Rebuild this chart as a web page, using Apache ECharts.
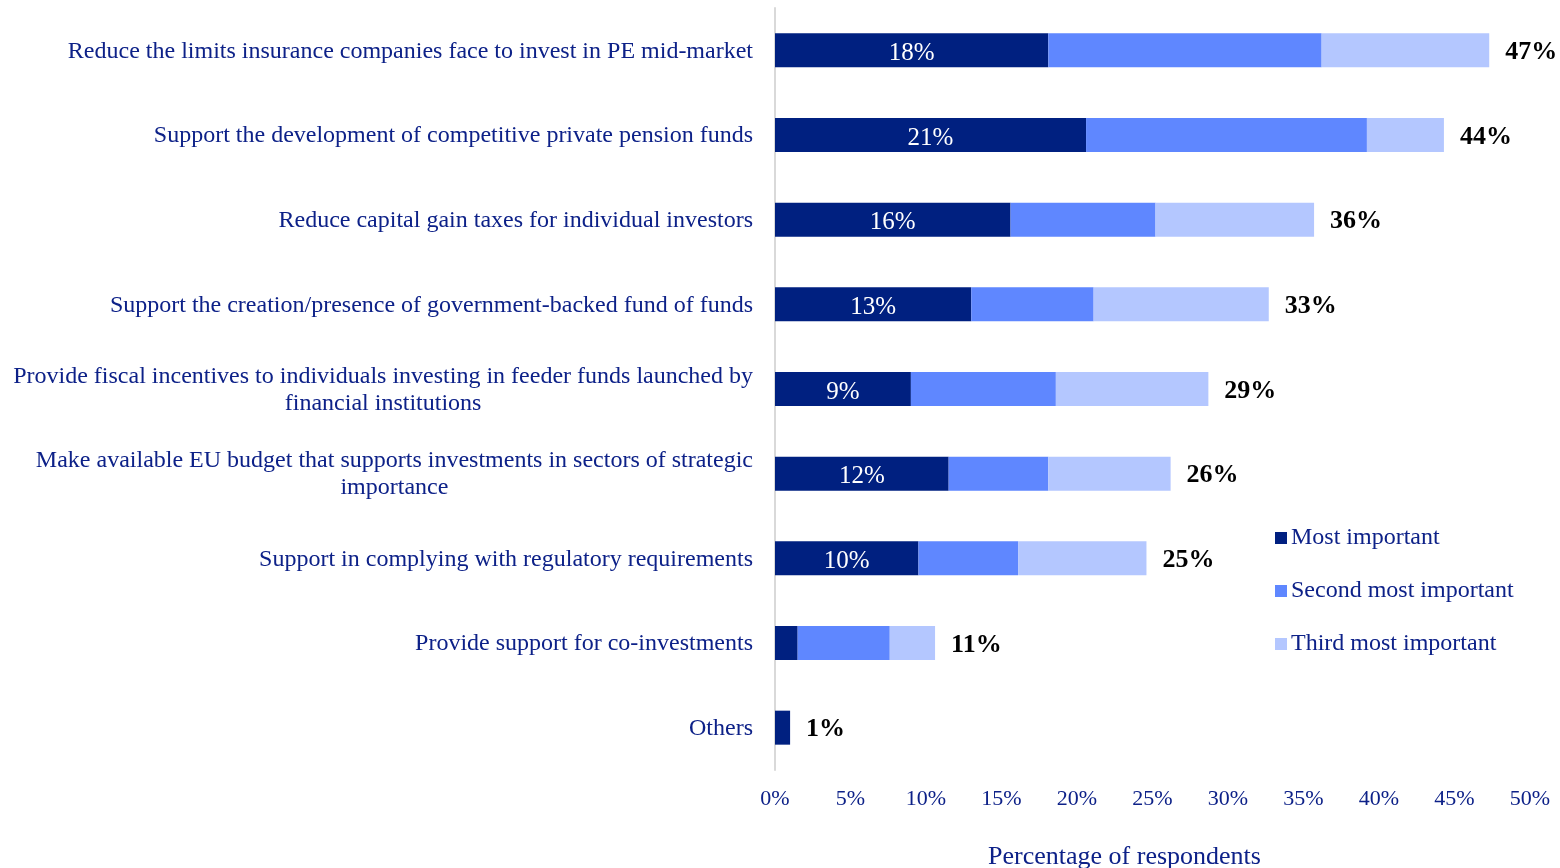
<!DOCTYPE html>
<html>
<head>
<meta charset="utf-8">
<script src="https://cdn.jsdelivr.net/npm/echarts@6/dist/echarts.min.js"></script>
<style>
  html, body { margin: 0; padding: 0; background: #fff; }
  #main { width: 1560px; height: 868px; }
</style>
</head>
<body>
<div id="main"></div>
<script>
// categories, top to bottom
var categories = [
  'Reduce the limits insurance companies face to invest in PE mid-market',
  'Support the development of competitive private pension funds',
  'Reduce capital gain taxes for individual investors',
  'Support the creation/presence of government-backed fund of funds',
  'Provide fiscal incentives to individuals investing in feeder funds launched by\nfinancial institutions',
  'Make available EU budget that supports investments in sectors of strategic\nimportance',
  'Support in complying with regulatory requirements',
  'Provide support for co-investments',
  'Others'
];
var mostImportant = [18.1, 20.6, 15.6, 13.0, 9.0, 11.5, 9.5, 1.5, 1.0];
var secondImportant = [18.1, 18.6, 9.6, 8.1, 9.6, 6.6, 6.6, 6.1, 0];
var thirdImportant = [11.1, 5.1, 10.5, 11.6, 10.1, 8.1, 8.5, 3.0, 0];
var totals = [47, 44, 36, 33, 29, 26, 25, 11, 1];
var insideLabels = ['18%', '21%', '16%', '13%', '9%', '12%', '10%', '', ''];
var xTicks = [0, 5, 10, 15, 20, 25, 30, 35, 40, 45, 50];

var textBlue = '#0d2188';
var serif = '"Liberation Serif", "Times New Roman", serif';

var myChart = echarts.init(document.getElementById('main'));
myChart.setOption({
  animation: false,
  textStyle: { fontFamily: serif },
  grid: { left: 775, right: 30, top: 8, bottom: 98, outerBoundsMode: 'none', containLabel: false },
  legend: {
    orient: 'vertical',
    left: 1270,
    top: 521,
    itemWidth: 12,
    itemHeight: 12,
    itemGap: 29,
    icon: 'rect',
    data: ['Most important', 'Second most important', 'Third most important'],
    textStyle: { color: textBlue, fontSize: 24, fontFamily: serif, padding: [0, 0, 0, -1] }
  },
  xAxis: {
    type: 'value',
    min: xTicks[0],
    max: xTicks[xTicks.length - 1],
    interval: 5,
    splitLine: { show: false },
    axisLine: { show: false },
    axisTick: { show: false },
    axisLabel: { formatter: '{value}%', color: textBlue, fontSize: 22, margin: 18, fontFamily: serif },
    name: 'Percentage of respondents',
    nameLocation: 'middle',
    nameGap: 74,
    nameTextStyle: { color: textBlue, fontSize: 26, fontFamily: serif, padding: [0, 56, 0, 0] }
  },
  yAxis: {
    type: 'category',
    inverse: true,
    data: categories,
    axisTick: { show: false },
    axisLine: { show: true, lineStyle: { color: '#d9d9d9', width: 2 } },
    axisLabel: {
      margin: 22,
      formatter: function (v) {
        return v.split('\n').map(function (l) { return '{c|' + l + '}'; }).join('\n');
      },
      rich: {
        c: { color: textBlue, fontSize: 24, fontFamily: serif, align: 'center', lineHeight: 27, padding: [2, 0, 0, 0] }
      }
    }
  },
  series: [
    {
      name: 'Most important',
      type: 'bar',
      stack: 'total',
      barWidth: 34,
      itemStyle: { color: '#002080' },
      label: {
        show: true,
        position: 'inside',
        color: '#fff',
        fontSize: 25,
        fontFamily: serif,
        offset: [0, 3],
        formatter: function (p) { return insideLabels[p.dataIndex]; }
      },
      data: mostImportant
    },
    {
      name: 'Second most important',
      type: 'bar',
      stack: 'total',
      itemStyle: { color: '#5f87ff' },
      data: secondImportant
    },
    {
      name: 'Third most important',
      type: 'bar',
      stack: 'total',
      itemStyle: { color: '#b4c7ff' },
      data: thirdImportant
    },
    {
      name: 'Total',
      type: 'bar',
      barGap: '-100%',
      barWidth: 34,
      z: 1,
      itemStyle: { color: 'rgba(0,0,0,0)' },
      label: {
        show: true,
        position: 'right',
        distance: 16,
        color: '#000',
        fontSize: 26,
        fontWeight: 'bold',
        fontFamily: serif,
        offset: [0, 2],
        formatter: function (p) { return totals[p.dataIndex] + '%'; }
      },
      data: mostImportant.map(function (v, i) { return v + secondImportant[i] + thirdImportant[i]; })
    }
  ]
});
</script>
</body>
</html>
